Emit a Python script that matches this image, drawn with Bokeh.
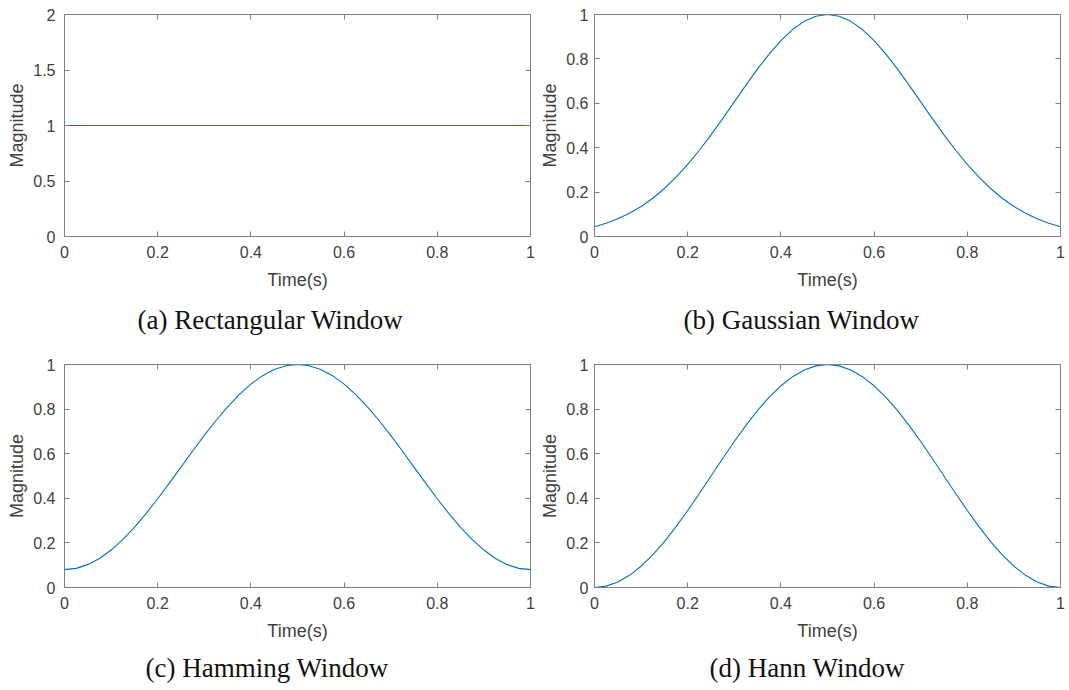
from bokeh.plotting import figure
from bokeh.layouts import column, row
from bokeh.models import LinearAxis, FixedTicker, CustomJSTickFormatter, Title
from bokeh.embed import file_html
from bokeh.resources import INLINE

# Sample times (s) and window magnitudes
time_s = [0.0, 0.025, 0.05, 0.075, 0.1, 0.125, 0.15, 0.175, 0.2, 0.225, 0.25,
          0.275, 0.3, 0.325, 0.35, 0.375, 0.4, 0.425, 0.45, 0.475, 0.5,
          0.525, 0.55, 0.575, 0.6, 0.625, 0.65, 0.675, 0.7, 0.725, 0.75,
          0.775, 0.8, 0.825, 0.85, 0.875, 0.9, 0.925, 0.95, 0.975, 1.0]

rect_t = [0.0, 1.0]
rect_mag = [1.0, 1.0]

gauss_mag = [0.0439, 0.0596, 0.0796, 0.1046, 0.1353, 0.1724, 0.2163, 0.2671, 0.3247, 0.3886, 0.4578,
             0.5311, 0.6065, 0.6819, 0.7548, 0.8226, 0.8825, 0.9321, 0.9692, 0.9922, 1.0,
             0.9922, 0.9692, 0.9321, 0.8825, 0.8226, 0.7548, 0.6819, 0.6065, 0.5311, 0.4578,
             0.3886, 0.3247, 0.2671, 0.2163, 0.1724, 0.1353, 0.1046, 0.0796, 0.0596, 0.0439]

hamming_mag = [0.08, 0.0857, 0.1025, 0.1301, 0.1679, 0.2147, 0.2696, 0.3312, 0.3979, 0.4680, 0.54,
               0.6120, 0.6822, 0.7488, 0.8104, 0.8653, 0.9121, 0.9499, 0.9775, 0.9943, 1.0,
               0.9943, 0.9775, 0.9499, 0.9121, 0.8653, 0.8104, 0.7488, 0.6822, 0.6120, 0.54,
               0.4680, 0.3979, 0.3312, 0.2696, 0.2147, 0.1679, 0.1301, 0.1025, 0.0857, 0.08]

hann_mag = [0.0, 0.0062, 0.0245, 0.0545, 0.0955, 0.1464, 0.2061, 0.2730, 0.3455, 0.4218, 0.5,
            0.5782, 0.6545, 0.7270, 0.7939, 0.8536, 0.9045, 0.9455, 0.9755, 0.9938, 1.0,
            0.9938, 0.9755, 0.9455, 0.9045, 0.8536, 0.7939, 0.7270, 0.6545, 0.5782, 0.5,
            0.4218, 0.3455, 0.2730, 0.2061, 0.1464, 0.0955, 0.0545, 0.0245, 0.0062, 0.0]

x_ticks = [0, 0.2, 0.4, 0.6, 0.8, 1]
y_ticks_rect = [0, 0.5, 1, 1.5, 2]
y_ticks_unit = [0, 0.2, 0.4, 0.6, 0.8, 1]

captions = ["(a) Rectangular Window", "(b) Gaussian Window",
            "(c) Hamming Window", "(d) Hann Window"]

LINE_COLOR = "#0072BD"
AXIS_COLOR = "#7f7f7f"
TEXT_COLOR = "#404040"
SANS = "Liberation Sans"
SERIF = "Liberation Serif"


def style_axis(ax, ticks, show_labels, label_standoff=8, title_standoff=6):
    ax.ticker = FixedTicker(ticks=ticks)
    ax.major_tick_in = 5
    ax.major_tick_out = 0
    ax.minor_tick_line_color = None
    ax.axis_line_color = AXIS_COLOR
    ax.major_tick_line_color = AXIS_COLOR
    ax.axis_line_width = 1
    if show_labels:
        ax.formatter = CustomJSTickFormatter(code="return tick.toString();")
        ax.major_label_text_font = SANS
        ax.major_label_text_color = TEXT_COLOR
        ax.major_label_text_font_size = "16px"
        ax.major_label_standoff = label_standoff
        ax.axis_label_text_font = SANS
        ax.axis_label_text_font_size = "18px"
        ax.axis_label_text_font_style = "normal"
        ax.axis_label_text_color = TEXT_COLOR
        ax.axis_label_standoff = title_standoff
    else:
        # box edge: inward ticks only, no tick text
        ax.major_label_text_color = None
        ax.major_label_text_font_size = "1px"
        ax.major_label_standoff = 0


def panel(xs, ys, y_max, y_ticks, caption, width, height,
          border_left, border_right, border_top, border_bottom,
          cap_offset, cap_standoff, y_label_standoff):
    p = figure(width=width, height=height, x_range=(0, 1), y_range=(0, y_max),
               output_backend="svg", toolbar_location=None, title=None,
               min_border_left=border_left, min_border_right=border_right,
               min_border_top=border_top, min_border_bottom=border_bottom,
               background_fill_color="white", border_fill_color="white")
    p.outline_line_color = None
    p.grid.visible = False

    style_axis(p.xaxis[0], x_ticks, True, label_standoff=9, title_standoff=9)
    style_axis(p.yaxis[0], y_ticks, True, label_standoff=y_label_standoff, title_standoff=3)
    p.xaxis[0].axis_label = "Time(s)"
    p.yaxis[0].axis_label = "Magnitude"

    top = LinearAxis()
    right = LinearAxis()
    style_axis(top, x_ticks, False)
    style_axis(right, y_ticks, False)
    p.add_layout(top, "above")
    p.add_layout(right, "right")

    p.line(xs, ys, line_color=LINE_COLOR, line_width=1.1)

    cap = Title(text=caption, align="left", offset=cap_offset,
                text_font=SERIF, text_font_size="27px", text_font_style="normal",
                text_color="#111111", standoff=cap_standoff)
    p.add_layout(cap, "below")
    return p


LEFT_W, RIGHT_W = 535, 534
TOP_H, BOTTOM_H = 345, 345

pa = panel(rect_t, rect_mag, 2, y_ticks_rect, captions[0], LEFT_W, TOP_H,
           64, 5, 14, 109, 73, 21, 9)
pb = panel(time_s, gauss_mag, 1, y_ticks_unit, captions[1], RIGHT_W, TOP_H,
           59, 9, 14, 109, 89, 21, 6)
pc = panel(time_s, hamming_mag, 1, y_ticks_unit, captions[2], LEFT_W, BOTTOM_H,
           64, 5, 19, 103, 81, 15, 9)
pd = panel(time_s, hann_mag, 1, y_ticks_unit, captions[3], RIGHT_W, BOTTOM_H,
           59, 9, 19, 103, 115, 15, 6)

layout = column(row(pa, pb), row(pc, pd))

open("out.html", "w").write(file_html(layout, INLINE))
